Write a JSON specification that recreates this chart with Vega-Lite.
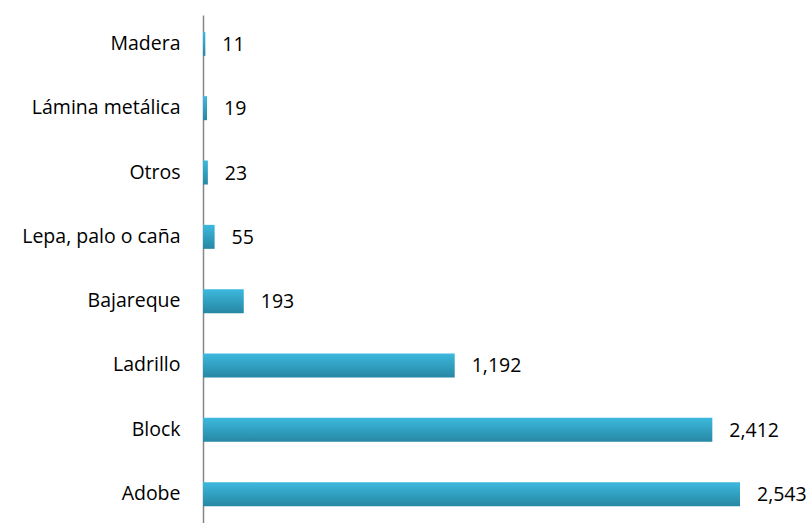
{
  "$schema": "https://vega.github.io/schema/vega-lite/v6.json",
  "width": 609,
  "height": 508,
  "autosize": "none",
  "padding": {"left": 203, "top": 15, "right": 0, "bottom": 0},
  "background": "white",
  "data": {"values": [
    {"material": "Madera", "viviendas": 11},
    {"material": "Lámina metálica", "viviendas": 19},
    {"material": "Otros", "viviendas": 23},
    {"material": "Lepa, palo o caña", "viviendas": 55},
    {"material": "Bajareque", "viviendas": 193},
    {"material": "Ladrillo", "viviendas": 1192},
    {"material": "Block", "viviendas": 2412},
    {"material": "Adobe", "viviendas": 2543}
  ]},
  "encoding": {
    "y": {"field": "material", "type": "nominal", "sort": null,
      "scale": {"paddingInner": 0.627, "paddingOuter": 0.262},
      "axis": {"title": null, "ticks": false, "labelPadding": 23, "labelFontSize": 19.5, "labelFont": "Open Sans", "labelFontWeight": "normal", "labelColor": "#000000", "domainColor": "#868686", "domainWidth": 1.5, "labelLimit": 300}},
    "x": {"field": "viviendas", "type": "quantitative", "scale": {"domain": [0, 2884], "nice": false}, "axis": null}
  },
  "layer": [
    {"mark": {"type": "bar", "color": {"gradient": "linear", "x1": 0, "y1": 0, "x2": 0, "y2": 1, "stops": [{"offset": 0, "color": "#3cb9de"}, {"offset": 1, "color": "#2787a3"}]}}},
    {"mark": {"type": "text", "align": "left", "baseline": "middle", "dx": 17, "dy": 1, "fontSize": 19.5, "font": "Open Sans", "fontWeight": "normal", "color": "#000000"},
      "encoding": {"text": {"field": "viviendas", "type": "quantitative", "format": ","}}}
  ],
  "config": {"view": {"stroke": null}}
}
